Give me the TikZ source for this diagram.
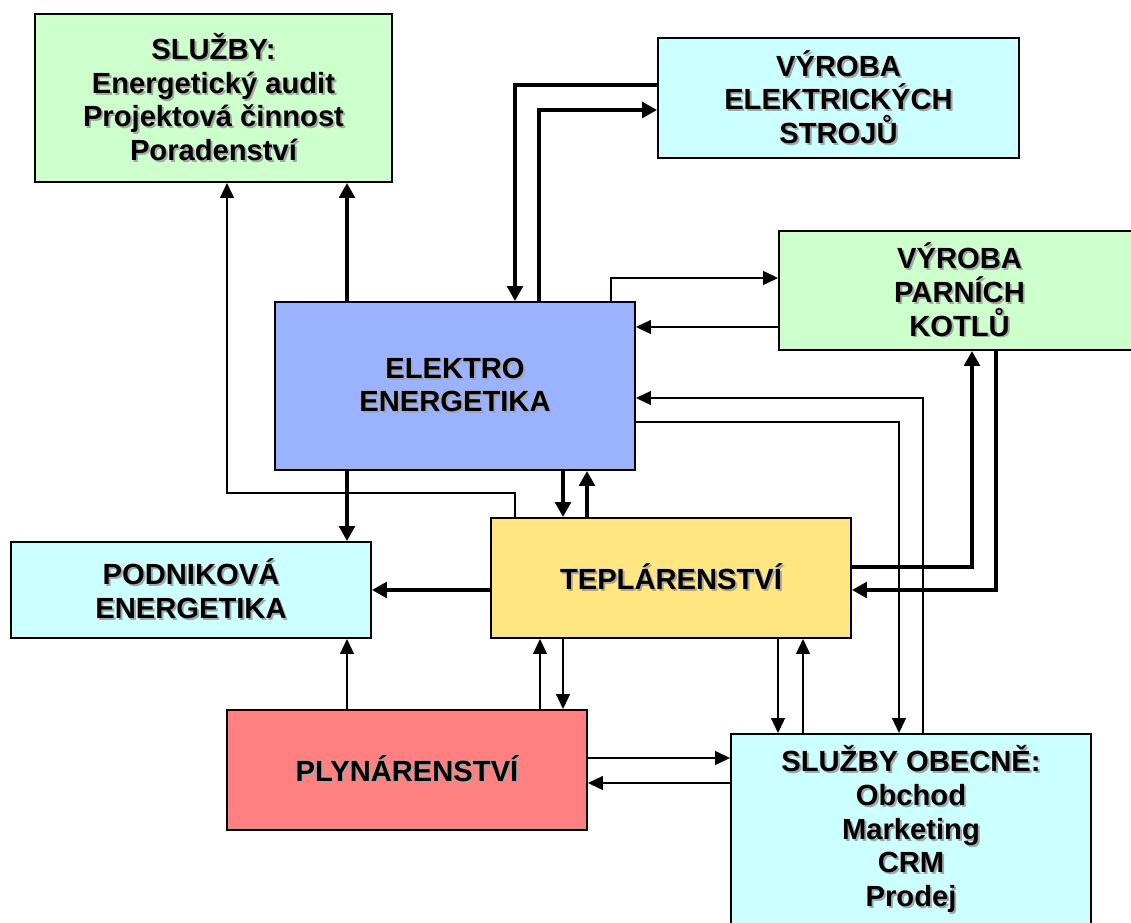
\documentclass[tikz,border=0pt]{standalone}
\usepackage{fontspec}
\setmainfont{Liberation Sans}
\usepackage{tikz}
\usetikzlibrary{positioning}
\usetikzlibrary{arrows.meta}
\newcommand\sh[1]{\rlap{\kern1.1pt\raisebox{-1.1pt}{\color{black!35}#1}}#1}

\begin{document}
\begin{tikzpicture}[x=0.02cm, y=-0.02cm,
    main/.style = {draw, line width=1.1pt, inner sep=0pt, align=center,
        font=\fontsize{16.6}{19.2}\selectfont\bfseries},
    thn/.style = {line width=1.1pt, -{Triangle[length=8.5pt, width=7.8pt]}},
    thk/.style = {line width=2.8pt, -{Triangle[length=8.5pt, width=8.8pt]}}]
    \clip (0,0) rectangle (1131,922);
    \useasboundingbox (0,0) rectangle (1131,922);
    \node[main, fill={rgb,255:red,204;green,255;blue,204}, minimum width=7.14cm, minimum height=3.36cm] (sluzby) at (213.5,98) {\sh{SLUŽBY:}\\\sh{Energetický audit}\\\sh{Projektová činnost}\\\sh{Poradenství}};
    \node[main, fill={rgb,255:red,204;green,255;blue,255}, minimum width=7.22cm, minimum height=2.4cm] (vyrobaEl) at (838.5,98) {\sh{VÝROBA}\\\sh{ELEKTRICKÝCH}\\\sh{STROJŮ}};
    \node[main, fill={rgb,255:red,204;green,255;blue,204}, minimum width=7.22cm, minimum height=2.38cm] (parni) at (959.5,290.5) {\sh{VÝROBA}\\\sh{PARNÍCH}\\\sh{KOTLŮ}};
    \node[main, fill={rgb,255:red,155;green,178;blue,255}, minimum width=7.2cm, minimum height=3.36cm] (elektro) at (455,386) {\sh{ELEKTRO}\\\sh{ENERGETIKA}};
    \node[main, fill={rgb,255:red,204;green,255;blue,255}, minimum width=7.2cm, minimum height=1.92cm] (podnik) at (191,590) {\sh{PODNIKOVÁ}\\\sh{ENERGETIKA}};
    \node[main, fill={rgb,255:red,255;green,230;blue,128}, minimum width=7.2cm, minimum height=2.4cm] (tepl) at (671,578) {\sh{TEPLÁRENSTVÍ}};
    \node[main, fill={rgb,255:red,255;green,128;blue,128}, minimum width=7.2cm, minimum height=2.4cm] (plyn) at (407,770) {\sh{PLYNÁRENSTVÍ}};
    \node[main, fill={rgb,255:red,204;green,255;blue,255}, minimum width=7.2cm, minimum height=3.84cm] (obecne) at (911,830) {\sh{SLUŽBY OBECNĚ:}\\\sh{Obchod}\\\sh{Marketing}\\\sh{CRM}\\\sh{Prodej}};

    \draw[thk] (vyrobaEl.west |- 0,85) -| (515,0 |- elektro.north);
    \draw[thk] (539,0 |- elektro.north) |- (vyrobaEl.west |- 0,110);
    \draw[thn] (611,0 |- elektro.north) |- (parni.west |- 0,278);
    \draw[thn] (parni.west |- 0,327) -- (elektro.east |- 0,327);
    \draw[thn] (923,0 |- obecne.north) |- (elektro.east |- 0,398);
    \draw[thn] (elektro.east |- 0,422) -| (899,0 |- obecne.north);
    \draw[thk] (tepl.east |- 0,567) -| (972,0 |- parni.south);
    \draw[thk] (996,0 |- parni.south) |- (tepl.east |- 0,590);
    \draw[thk] (347,0 |- elektro.south) -- (347,0 |- podnik.north);
    \draw[thn] (515,0 |- tepl.north) |- (227,493) -- (227,0 |- sluzby.south);
    \draw[thk] (347,0 |- elektro.north) -- (347,0 |- sluzby.south);
    \draw[thk] (563,0 |- elektro.south) -- (563,0 |- tepl.north);
    \draw[thk] (587,0 |- tepl.north) -- (587,0 |- elektro.south);
    \draw[thk] (tepl.west |- 0,590) -- (podnik.east |- 0,590);
    \draw[thn] (347,0 |- plyn.north) -- (347,0 |- podnik.south);
    \draw[thn] (540,0 |- plyn.north) -- (540,0 |- tepl.south);
    \draw[thn] (563,0 |- tepl.south) -- (563,0 |- plyn.north);
    \draw[thn] (778,0 |- tepl.south) -- (778,0 |- obecne.north);
    \draw[thn] (803,0 |- obecne.north) -- (803,0 |- tepl.south);
    \draw[thn] (plyn.east |- 0,758) -- (obecne.west |- 0,758);
    \draw[thn] (obecne.west |- 0,783) -- (plyn.east |- 0,783);
\end{tikzpicture}
\end{document}
